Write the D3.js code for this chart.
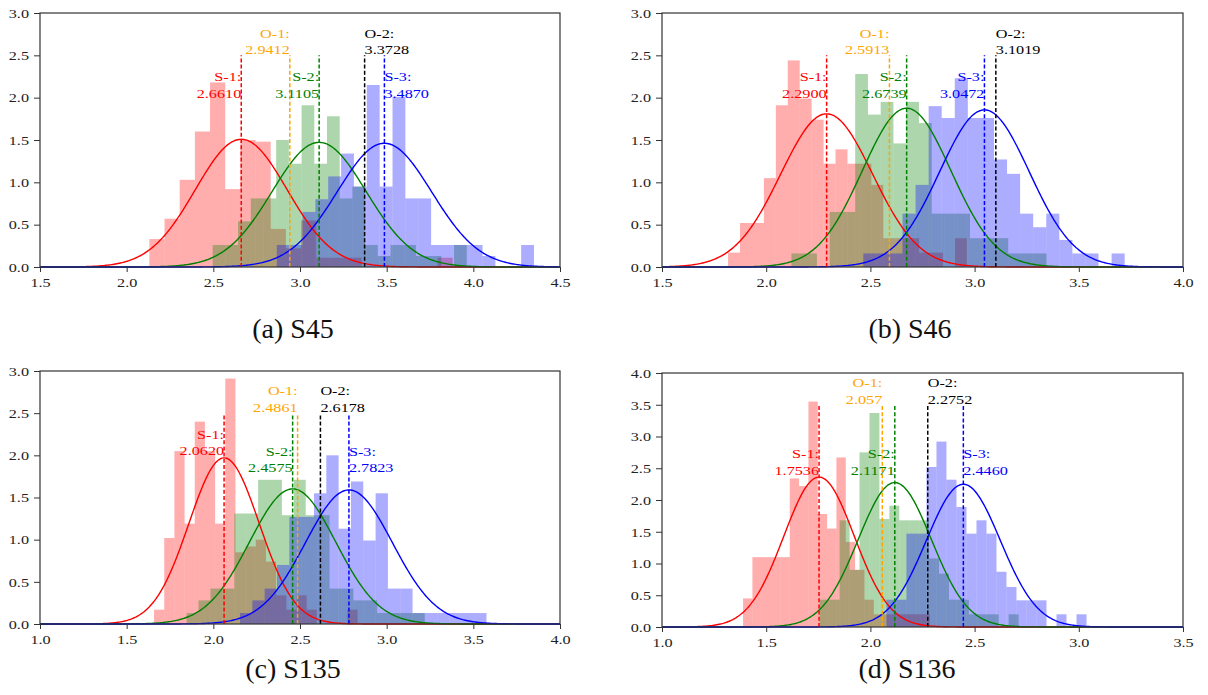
<!DOCTYPE html>
<html><head><meta charset="utf-8">
<script src="https://cdn.jsdelivr.net/npm/d3@7"></script>
<style>body{margin:0;background:#fff;} svg{display:block;}</style>
</head><body><svg id="chart" width="1208" height="695"></svg>
<script>
// ================= DATA =================
const captions = ["(a) S45", "(b) S46", "(c) S135", "(d) S136"];
const seriesNames = ["S-1", "S-2", "S-3"];
const optimumNames = ["O-1", "O-2"];

const xTicksA = [1.5, 2.0, 2.5, 3.0, 3.5, 4.0, 4.5];
const xTicksB = [1.5, 2.0, 2.5, 3.0, 3.5, 4.0];
const xTicksC = [1.0, 1.5, 2.0, 2.5, 3.0, 3.5, 4.0];
const xTicksD = [1.0, 1.5, 2.0, 2.5, 3.0, 3.5];
const yTicksABC = [0, 0.5, 1.0, 1.5, 2.0, 2.5, 3.0];
const yTicksD = [0, 0.5, 1.0, 1.5, 2.0, 2.5, 3.0, 3.5, 4.0];

// histograms: first bin edge, bin width, density of each bin
const aS1Start = 2.131, aS1Width = 0.0875;
const aS1Density = [0.33,0.57,1.03,1.6,2.18,0.92,1.5,1.48,0.45,0.22,0.55,0.11,0.11,0.11,0,0,0,0,0,0.11];
const aS2Start = 2.496, aS2Width = 0.0733;
const aS2Density = [0.26,0.26,0.54,0.81,0.81,1.5,1.22,1.91,1.22,1.78,0.81,0.95,0.26,0.13,0.26,0.26,0.13,0.13,0,0.26];
const aS3Start = 2.866, aS3Width = 0.0742;
const aS3Density = [0.26,0.26,0.65,0.8,1.07,1.34,0.95,2.15,0.95,2.01,0.81,0.81,0.26,0.26,0.26,0.26,0.13,0,0,0.26];

const bS1Start = 1.817, bS1Width = 0.0573;
const bS1Density = [0.17,0.52,0.52,1.05,1.91,2.44,1.99,1.74,1.22,1.39,1.22,1.22,0.97,0.34,0.34,0.34,0.17,0.17,0,0.34];
const bS2Start = 2.121, bS2Width = 0.0612;
const bS2Density = [0.16,0.16,0,0.65,0.65,2.28,1.8,1.95,1.46,1.95,1.7,0.63,0.63,0.63,0.34,0.34,0.34,0.16,0.16,0.16];
const bS3Start = 2.466, bS3Width = 0.0627;
const bS3Density = [0.16,0.16,0.16,0.63,0.97,1.9,1.76,2.23,1.76,1.76,1.27,1.1,0.63,0.47,0.63,0.32,0.16,0.16,0,0.16];

const cS1Start = 1.658, cS1Width = 0.0587;
const cS1Density = [0.17,1.02,2.05,1.19,2.4,2.05,1.19,2.91,0.85,0.92,1.0,0.74,0.34,0.17,0.34,0.17,0,0,0,0.17];
const cS2Start = 1.846, cS2Width = 0.0687;
const cS2Density = [0.13,0.28,0.42,0.42,1.31,1.31,1.71,1.71,1.29,1.71,1.29,1.29,0.42,0.42,0.28,0.28,0.13,0.13,0.13,0.13];
const cS3Start = 2.154, cS3Width = 0.0711;
const cS3Density = [0.13,0.28,0.42,0.7,1.27,1.27,1.55,2.0,1.13,1.69,0.99,1.55,0.42,0.42,0.13,0.13,0.13,0.13,0.13,0.13];

const dS1Start = 1.389, dS1Width = 0.0448;
const dS1Density = [0.45,1.1,1.1,1.1,1.1,2.34,2.22,3.55,1.78,1.55,2.67,1.34,0.9,0.43,0.2,0.2,0.2,0.2,0.2,0.2];
const dS2Start = 1.757, dS2Width = 0.0477;
const dS2Density = [0.43,0.43,1.68,0.9,2.75,3.37,1.7,1.91,1.68,1.68,1.68,1.08,0.84,0.43,0.43,0.2,0.2,0.2,0,0.2];
const dS3Start = 2.077, dS3Width = 0.048;
const dS3Density = [0.43,0.43,1.47,1.47,2.52,2.92,2.32,1.89,1.47,1.68,1.47,0.87,0.63,0.42,0.42,0.42,0,0.2,0,0.2];

// fitted normal curves (mean, standard deviation) and the O-values
const aMeans = [2.6610, 3.1105, 3.4870], aSigmas = [0.2645, 0.271, 0.273];
const aMeanLabels = ["2.6610", "3.1105", "3.4870"];
const aOpt = [2.9412, 3.3728], aOptLabels = ["2.9412", "3.3728"];
const bMeans = [2.2900, 2.6739, 3.0472], bSigmas = [0.2205, 0.2127, 0.215];
const bMeanLabels = ["2.2900", "2.6739", "3.0472"];
const bOpt = [2.5913, 3.1019], bOptLabels = ["2.5913", "3.1019"];
const cMeans = [2.0620, 2.4575, 2.7823], cSigmas = [0.2025, 0.249, 0.251];
const cMeanLabels = ["2.0620", "2.4575", "2.7823"];
const cOpt = [2.4861, 2.6178], cOptLabels = ["2.4861", "2.6178"];
const dMeans = [1.7536, 2.1171, 2.4460], dSigmas = [0.169, 0.1754, 0.1775];
const dMeanLabels = ["1.7536", "2.1171", "2.4460"];
const dOpt = [2.057, 2.2752], dOptLabels = ["2.057", "2.2752"];

// ================= LAYOUT / STYLE =================
const seriesColors = ["#ff0000", "#008000", "#0000ff"];
const optColors = ["#ffa500", "#000000"];
const FONT = "'Liberation Serif','Times New Roman',serif";
const SX = 1.2;          // horizontal stretch of chart text
const tickFont = 13.5, annFont = 13.5, annLine = 16.7, capFont = 28;

const panelDefs = [
  { box: {x: 40,  y: 13,  w: 520, h: 254}, xt: xTicksA, yt: yTicksABC,
    hist: [[aS1Start,aS1Width,aS1Density],[aS2Start,aS2Width,aS2Density],[aS3Start,aS3Width,aS3Density]],
    means: aMeans, sig: aSigmas, mLab: aMeanLabels, opt: aOpt, oLab: aOptLabels,
    lineTop: 2.5, sAnchor: ["end","end","start"], sBase: [2.0,2.0,2.0], oAnchor: ["end","start"],
    cap: [293, 338] },
  { box: {x: 662, y: 13,  w: 521, h: 254}, xt: xTicksB, yt: yTicksABC,
    hist: [[bS1Start,bS1Width,bS1Density],[bS2Start,bS2Width,bS2Density],[bS3Start,bS3Width,bS3Density]],
    means: bMeans, sig: bSigmas, mLab: bMeanLabels, opt: bOpt, oLab: bOptLabels,
    lineTop: 2.5, sAnchor: ["end","end","end"], sBase: [2.0,2.0,2.0], oAnchor: ["end","start"],
    cap: [910, 338] },
  { box: {x: 40,  y: 371, w: 520, h: 253}, xt: xTicksC, yt: yTicksABC,
    hist: [[cS1Start,cS1Width,cS1Density],[cS2Start,cS2Width,cS2Density],[cS3Start,cS3Width,cS3Density]],
    means: cMeans, sig: cSigmas, mLab: cMeanLabels, opt: cOpt, oLab: cOptLabels,
    lineTop: 2.5, sAnchor: ["end","end","start"], sBase: [2.0,1.8,1.8], oAnchor: ["end","start"],
    cap: [293, 678] },
  { box: {x: 662, y: 373, w: 521, h: 254}, xt: xTicksD, yt: yTicksD,
    hist: [[dS1Start,dS1Width,dS1Density],[dS2Start,dS2Width,dS2Density],[dS3Start,dS3Width,dS3Density]],
    means: dMeans, sig: dSigmas, mLab: dMeanLabels, opt: dOpt, oLab: dOptLabels,
    lineTop: 3.5, sAnchor: ["end","end","start"], sBase: [2.4,2.4,2.4], oAnchor: ["end","start"],
    cap: [907, 678] }
];

// ================= DRAW =================
const svg = d3.select("#chart");
svg.append("rect").attr("width", 1208).attr("height", 695).attr("fill", "#fff");

function stretchedText(g, x, y, lines, color, anchor) {
  const t = g.append("text")
    .attr("transform", `translate(${x},${y}) scale(${SX},1)`)
    .attr("text-anchor", anchor)
    .attr("font-family", FONT).attr("font-size", annFont)
    .attr("fill", color);
  lines.forEach((s, i) => {
    t.append("tspan").attr("x", 0).attr("y", (i - (lines.length - 1)) * annLine).text(s);
  });
}

panelDefs.forEach((p, pi) => {
  const {x, y, w, h} = p.box;
  const g = svg.append("g").attr("transform", `translate(${x},${y})`);
  const xs = d3.scaleLinear().domain([p.xt[0], p.xt[p.xt.length - 1]]).range([0, w]);
  const ys = d3.scaleLinear().domain([p.yt[0], p.yt[p.yt.length - 1]]).range([h, 0]);

  // histograms
  p.hist.forEach(([start, width, dens], si) => {
    const bins = dens.map((d, i) => ({x0: start + i * width, x1: start + (i + 1) * width, d}))
      .filter(b => b.d > 0);
    g.append("g").selectAll("rect").data(bins).join("rect")
      .attr("x", b => xs(b.x0))
      .attr("width", b => xs(b.x1) - xs(b.x0))
      .attr("y", b => ys(b.d))
      .attr("height", b => ys(0) - ys(b.d))
      .attr("fill", seriesColors[si])
      .attr("fill-opacity", 0.32);
  });

  // normal curves
  const [dx0, dx1] = xs.domain();
  const grid = d3.range(0, 401).map(i => dx0 + (dx1 - dx0) * i / 400);
  p.means.forEach((m, si) => {
    const s = p.sig[si];
    const pdf = v => Math.exp(-0.5 * ((v - m) / s) ** 2) / (s * Math.sqrt(2 * Math.PI));
    const line = d3.line().x(v => xs(v)).y(v => ys(pdf(v)));
    g.append("path").datum(grid).attr("d", line)
      .attr("fill", "none").attr("stroke", seriesColors[si]).attr("stroke-width", 1.4);
  });

  // dashed vertical lines
  const vlines = [
    {v: p.means[0], c: seriesColors[0]},
    {v: p.opt[0],   c: optColors[0]},
    {v: p.means[1], c: seriesColors[1]},
    {v: p.opt[1],   c: optColors[1]},
    {v: p.means[2], c: seriesColors[2]}
  ];
  g.append("g").selectAll("line").data(vlines).join("line")
    .attr("x1", d => xs(d.v)).attr("x2", d => xs(d.v))
    .attr("y1", ys(0)).attr("y2", ys(p.lineTop))
    .attr("stroke", d => d.c).attr("stroke-width", 1.5)
    .attr("stroke-dasharray", "4,2.2");

  // labels
  p.means.forEach((m, si) => {
    stretchedText(g, xs(m), ys(p.sBase[si]), [seriesNames[si] + ":", p.mLab[si]], seriesColors[si], p.sAnchor[si]);
  });
  p.opt.forEach((o, oi) => {
    stretchedText(g, xs(o), ys(p.lineTop) - 1, [optimumNames[oi] + ":", p.oLab[oi]], optColors[oi], p.oAnchor[oi]);
  });

  // axes
  const fmt = d3.format(".1f");
  const ax = g.append("g").attr("transform", `translate(0,${h})`)
    .call(d3.axisBottom(xs).tickValues(p.xt).tickFormat(fmt).tickSize(5).tickPadding(5).tickSizeOuter(0));
  const ay = g.append("g")
    .call(d3.axisLeft(ys).tickValues(p.yt).tickFormat(fmt).tickSize(6).tickPadding(5).tickSizeOuter(0));
  [ax, ay].forEach(a => {
    a.select(".domain").remove();
    a.selectAll(".tick line").attr("stroke", "#333").attr("stroke-width", 1);
    a.selectAll(".tick text").attr("font-family", FONT).attr("font-size", tickFont).attr("fill", "#222")
      .each(function () {
        const t = d3.select(this);
        const tx = +t.attr("x") || 0;
        t.attr("transform", `translate(${tx},0) scale(${SX},1)`).attr("x", 0);
      });
  });
  g.append("rect").attr("x", 0).attr("y", 0).attr("width", w).attr("height", h)
    .attr("fill", "none").attr("stroke", "#333").attr("stroke-width", 1.2);

  // caption
  svg.append("text").attr("x", p.cap[0]).attr("y", p.cap[1])
    .attr("text-anchor", "middle").attr("font-family", FONT).attr("font-size", capFont)
    .attr("fill", "#111").text(captions[pi]);
});
</script>
</body></html>
